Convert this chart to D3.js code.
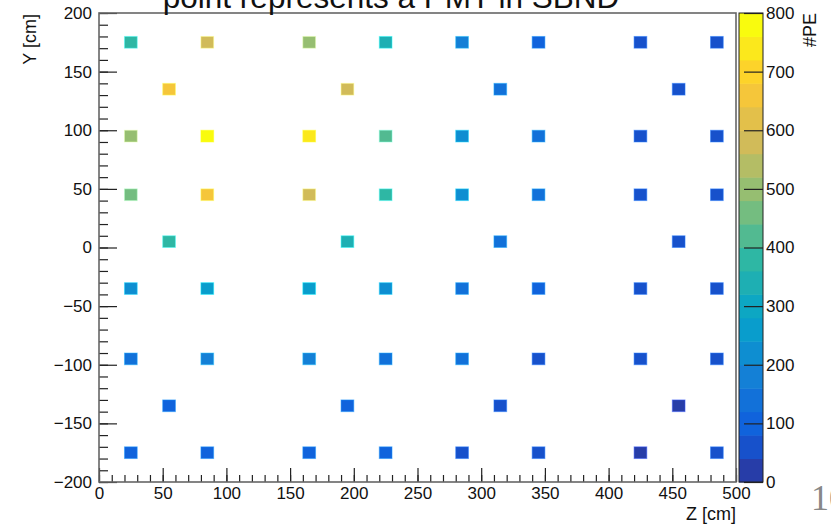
<!DOCTYPE html>
<html>
<head>
<meta charset="utf-8">
<script src="https://cdn.jsdelivr.net/npm/d3@7"></script>
<style>
  body { margin: 0; background: #fff; }
  text { font-family: "Liberation Sans", Arial, Helvetica, sans-serif; }
</style>
</head>
<body>
<div id="plot"></div>
<script>
// PMT positions (bin centres, cm) and #PE per PMT
var pmtZ = [25, 85, 165, 225, 285, 345, 425, 485,
            55, 195, 315, 455,
            25, 85, 165, 225, 285, 345, 425, 485,
            25, 85, 165, 225, 285, 345, 425, 485,
            55, 195, 315, 455,
            25, 85, 165, 225, 285, 345, 425, 485,
            25, 85, 165, 225, 285, 345, 425, 485,
            55, 195, 315, 455,
            25, 85, 165, 225, 285, 345, 425, 485];
var pmtY = [175, 175, 175, 175, 175, 175, 175, 175,
            135, 135, 135, 135,
            95, 95, 95, 95, 95, 95, 95, 95,
            45, 45, 45, 45, 45, 45, 45, 45,
            5, 5, 5, 5,
            -35, -35, -35, -35, -35, -35, -35, -35,
            -95, -95, -95, -95, -95, -95, -95, -95,
            -135, -135, -135, -135,
            -175, -175, -175, -175, -175, -175, -175, -175];
var pmtPE = [380, 580, 500, 340, 180, 100, 60, 60,
             660, 580, 140, 60,
             500, 780, 740, 420, 220, 140, 60, 60,
             460, 660, 580, 380, 220, 140, 60, 60,
             380, 340, 140, 60,
             220, 260, 260, 220, 140, 100, 60, 60,
             140, 180, 180, 140, 140, 60, 60, 60,
             100, 100, 60, 20,
             100, 100, 100, 100, 60, 60, 20, 60];

var zTicks = [0, 50, 100, 150, 200, 250, 300, 350, 400, 450, 500];
var yTicks = [-200, -150, -100, -50, 0, 50, 100, 150, 200];
var peTicks = [0, 100, 200, 300, 400, 500, 600, 700, 800];

var binSize = 10;
var nContours = 20;
var peMax = 800;

// ROOT kBird palette
var birdStops = [0.0000, 0.1250, 0.2500, 0.3750, 0.5000, 0.6250, 0.7500, 0.8750, 1.0000];
var birdRed   = [0.2082, 0.0592, 0.0780, 0.0232, 0.1802, 0.5301, 0.8186, 0.9956, 0.9764];
var birdGreen = [0.1664, 0.3599, 0.5041, 0.6419, 0.7178, 0.7492, 0.7328, 0.7862, 0.9832];
var birdBlue  = [0.5293, 0.8684, 0.8385, 0.7914, 0.6425, 0.4662, 0.3499, 0.1968, 0.0539];

var birdColors = birdStops.map(function(s, i) {
    return d3.rgb(birdRed[i] * 255, birdGreen[i] * 255, birdBlue[i] * 255);
});
var bird = d3.scaleLinear().domain(birdStops).range(birdColors).interpolate(d3.interpolateRgb);

// colour of each contour band, same picking as THistPainter
function bandColor(i) {
    var idx = Math.floor((i + 0.99) * 255 / nContours);
    return bird(Math.min(idx, 254) / 254);
}
function peColor(v) {
    var i = Math.floor(v / (peMax / nContours));
    return bandColor(Math.max(0, Math.min(nContours - 1, i)));
}

var W = 831, H = 524;
var frame = {left: 99, right: 736, top: 13, bottom: 482};

var svg = d3.select("#plot").append("svg")
    .attr("width", W)
    .attr("height", H);

var x = d3.scaleLinear().domain([0, 500]).range([frame.left, frame.right]);
var y = d3.scaleLinear().domain([-200, 200]).range([frame.bottom, frame.top]);

// bins
svg.append("g")
    .selectAll("rect")
    .data(pmtPE)
    .enter()
    .append("rect")
    .attr("x", function(d, i) { return x(pmtZ[i] - binSize / 2); })
    .attr("y", function(d, i) { return y(pmtY[i] + binSize / 2); })
    .attr("width", function(d, i) { return x(pmtZ[i] + binSize / 2) - x(pmtZ[i] - binSize / 2); })
    .attr("height", function(d, i) { return y(pmtY[i] - binSize / 2) - y(pmtY[i] + binSize / 2); })
    .attr("fill", function(d) { return peColor(d); })
    .attr("stroke", function(d) { return d3.color(peColor(d)).brighter(1.2); })
    .attr("stroke-opacity", 0.5)
    .attr("stroke-width", 1);

// X axis, ticks pointing inwards
var xMinor = svg.append("g")
    .attr("transform", "translate(0," + frame.bottom + ")")
    .call(d3.axisBottom(x).tickValues(d3.range(0, 501, 10)).tickSize(-7).tickFormat(""));
var xMajor = svg.append("g")
    .attr("transform", "translate(0," + frame.bottom + ")")
    .call(d3.axisBottom(x).tickValues(zTicks).tickSize(-14).tickPadding(5));

// Y axis
var yMinor = svg.append("g")
    .attr("transform", "translate(" + frame.left + ",0)")
    .call(d3.axisLeft(y).tickValues(d3.range(-200, 201, 10)).tickSize(-9).tickFormat(""));
var yMajor = svg.append("g")
    .attr("transform", "translate(" + frame.left + ",0)")
    .call(d3.axisLeft(y).tickValues(yTicks).tickSize(-18).tickPadding(7));

[xMinor, xMajor, yMinor, yMajor].forEach(function(g) {
    g.select(".domain").remove();
    g.selectAll(".tick line").attr("stroke", "#222").attr("stroke-width", 1.2);
    g.selectAll("text").attr("font-size", 17).attr("fill", "#111")
        .style("font-family", "'Liberation Sans', Arial, sans-serif");
});

// frame
svg.append("rect")
    .attr("x", frame.left)
    .attr("y", frame.top)
    .attr("width", frame.right - frame.left)
    .attr("height", frame.bottom - frame.top)
    .attr("fill", "none")
    .attr("stroke", "#666")
    .attr("stroke-width", 1.6);

// axis titles
svg.append("text")
    .attr("x", frame.right)
    .attr("y", 520)
    .attr("text-anchor", "end")
    .attr("font-size", 18)
    .attr("fill", "#111")
    .text("Z [cm]");

svg.append("text")
    .attr("transform", "translate(36," + (frame.top + 1) + ") rotate(-90)")
    .attr("text-anchor", "end")
    .attr("font-size", 18)
    .attr("fill", "#111")
    .text("Y [cm]");

// colour bar
var cb = {left: 739, right: 763};
var pe = d3.scaleLinear().domain([0, peMax]).range([frame.bottom, frame.top]);
var bands = d3.range(nContours);

svg.append("g")
    .selectAll("rect")
    .data(bands)
    .enter()
    .append("rect")
    .attr("x", cb.left)
    .attr("y", function(d) { return pe((d + 1) * peMax / nContours); })
    .attr("width", cb.right - cb.left)
    .attr("height", function(d) { return pe(d * peMax / nContours) - pe((d + 1) * peMax / nContours) + 0.5; })
    .attr("fill", function(d) { return bandColor(d); });

svg.append("rect")
    .attr("x", cb.left)
    .attr("y", frame.top)
    .attr("width", cb.right - cb.left)
    .attr("height", frame.bottom - frame.top)
    .attr("fill", "none")
    .attr("stroke", "#222")
    .attr("stroke-width", 1);

var cbAxis = svg.append("g")
    .attr("transform", "translate(" + cb.right + ",0)")
    .call(d3.axisRight(pe).tickValues(peTicks).tickSize(-19).tickPadding(3));
cbAxis.select(".domain").remove();
cbAxis.selectAll(".tick line").attr("stroke", "#222").attr("stroke-width", 1.2);
cbAxis.selectAll("text").attr("font-size", 17).attr("fill", "#111")
    .style("font-family", "'Liberation Sans', Arial, sans-serif");

svg.append("text")
    .attr("transform", "translate(816," + frame.top + ") rotate(-90)")
    .attr("text-anchor", "end")
    .attr("font-size", 18)
    .attr("fill", "#111")
    .text("#PE");

// title (top line cut off by the page edge, as in the source slide)
svg.append("text")
    .attr("x", 391)
    .attr("y", 8)
    .attr("text-anchor", "middle")
    .attr("font-size", 31.5)
    .attr("fill", "#111")
    .text("point represents a PMT in SBND");

// slide page number
svg.append("text")
    .attr("x", 811)
    .attr("y", 510)
    .attr("font-size", 36)
    .attr("fill", "#888")
    .style("font-family", "'Liberation Serif', 'DejaVu Serif', serif")
    .text("10");
</script>
</body>
</html>
